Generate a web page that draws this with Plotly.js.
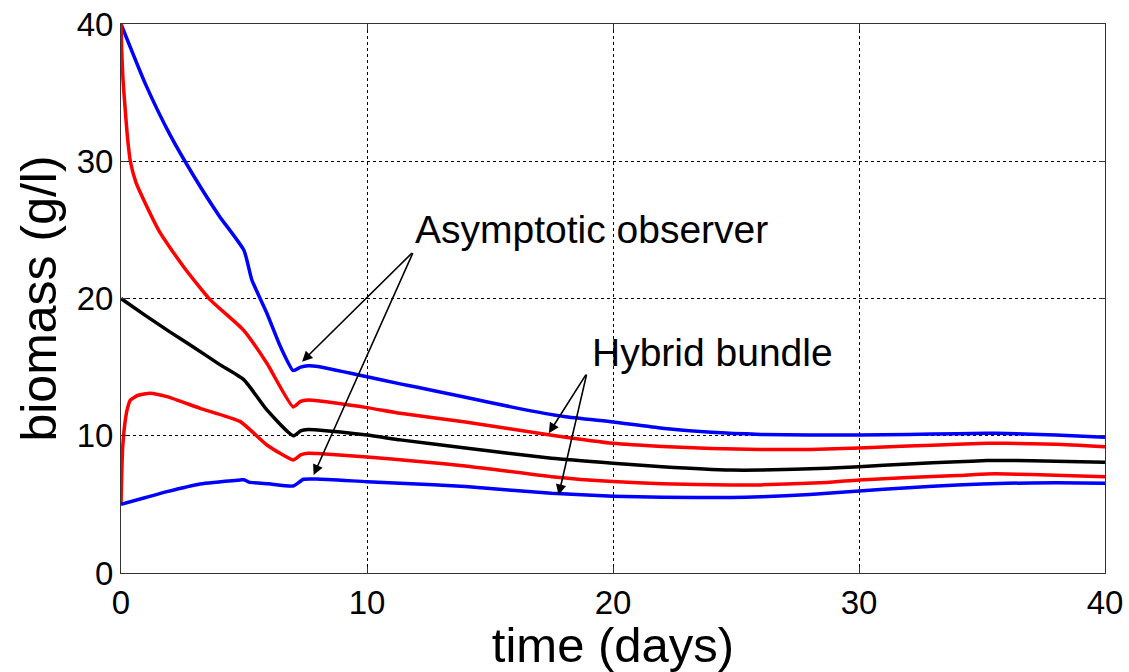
<!DOCTYPE html>
<html>
<head>
<meta charset="utf-8">
<script src="https://cdn.plot.ly/plotly-3.0.1.min.js"></script>
<style>html,body{margin:0;padding:0;background:#fff;}#chart{width:1129px;height:672px;}</style>
</head>
<body>
<div id="chart"></div>
<script>
// Upper asymptotic observer bound (blue)
const tBlueUp = [0, 1, 2, 3, 4, 5, 5.32, 5.93, 6.48, 7, 7.3, 7.6, 8, 10, 11.35, 12, 14, 16, 18, 20, 22, 24, 26, 28, 30, 32, 34, 35.2, 36, 38, 40];
const yBlueUp = [40, 35.6, 31.9, 28.8, 26.0, 23.5, 21.35, 18.93, 16.5, 14.75, 15.0, 15.1, 15.05, 14.3, 13.78, 13.55, 12.8, 12.05, 11.4, 11.0, 10.55, 10.25, 10.1, 10.05, 10.06, 10.1, 10.15, 10.18, 10.17, 10.05, 9.89];

// Upper hybrid bundle bound (red)
const tRedUp = [0, 0.03, 0.08, 0.14, 0.25, 0.38, 0.6, 0.92, 1.6, 2.55, 3.63, 4.98, 5.93, 7, 7.3, 7.6, 8, 10, 11.35, 14, 17.45, 20, 22, 24, 26, 28, 30, 32, 34, 35.2, 36, 38, 40];
const yRedUp = [40, 38, 36, 34.5, 32, 30, 28.5, 27.2, 24.76, 22.3, 19.9, 17.7, 15.28, 12.1, 12.5, 12.6, 12.55, 12.05, 11.64, 11.0, 10.06, 9.45, 9.22, 9.08, 9.0, 9.0, 9.1, 9.25, 9.38, 9.45, 9.45, 9.38, 9.2];

// Real biomass (black)
const tReal = [0, 1, 2, 3, 4, 5, 5.93, 7, 7.3, 7.6, 8, 10, 11.35, 14, 17.5, 20, 22, 24.8, 26, 28.7, 30, 32, 34, 35.2, 36, 38, 40];
const yReal = [20, 18.75, 17.55, 16.4, 15.2, 14.07, 11.88, 10.0, 10.35, 10.45, 10.42, 10.05, 9.7, 9.1, 8.36, 8.0, 7.75, 7.5, 7.5, 7.63, 7.75, 7.95, 8.1, 8.19, 8.2, 8.15, 8.07];

// Lower hybrid bundle bound (red)
const tRedLow = [0, 0.03, 0.07, 0.15, 0.25, 0.38, 0.7, 1.19, 1.87, 3.22, 4.85, 5.93, 7, 7.3, 7.6, 8, 10, 12, 14, 17.5, 20, 22, 24.8, 26, 28.7, 30, 32, 34, 35.2, 36, 38, 40];
const yRedLow = [5, 7.2, 9.2, 10.8, 11.9, 12.6, 12.95, 13.1, 12.85, 12.0, 11.03, 9.33, 8.24, 8.6, 8.72, 8.7, 8.45, 8.15, 7.8, 7.02, 6.66, 6.5, 6.41, 6.42, 6.6, 6.78, 6.95, 7.1, 7.22, 7.22, 7.12, 7.02];

// Lower asymptotic observer bound (blue)
const tBlueLow = [0, 1, 1.87, 3.22, 4.85, 5.0, 5.2, 6, 7, 7.42, 7.96, 10, 11.35, 14, 17.5, 20, 22, 24.8, 26, 28, 30, 32, 34, 36, 38, 40];
const yBlueLow = [5, 5.5, 5.93, 6.49, 6.78, 6.8, 6.62, 6.5, 6.34, 6.83, 6.85, 6.65, 6.54, 6.3, 5.81, 5.6, 5.52, 5.5, 5.55, 5.72, 5.98, 6.22, 6.42, 6.54, 6.57, 6.54];

const xTicks = [0, 10, 20, 30, 40];
const yTicks = [0, 10, 20, 30, 40];
const labelObserver = "Asymptotic observer";
const labelBundle = "Hybrid bundle";
const xTitle = "time (days)";
const yTitle = "biomass (g/l)";

const FONT = "Liberation Sans, Arial, sans-serif";
function line(x, y, color) {
  return {x: x, y: y, type: 'scatter', mode: 'lines',
          line: {color: color, width: 3.5, shape: 'spline', smoothing: 0.5},
          hoverinfo: 'skip', showlegend: false};
}
const traces = [
  line(tBlueUp, yBlueUp, '#0000ff'),
  line(tRedUp, yRedUp, '#ff0000'),
  line(tReal, yReal, '#000000'),
  line(tRedLow, yRedLow, '#ff0000'),
  line(tBlueLow, yBlueLow, '#0000ff')
];

function arrow(tipX, tipY, tailX, tailY) {
  return {x: tipX, y: tipY, ax: tailX, ay: tailY, xref: 'x', yref: 'y', axref: 'x', ayref: 'y',
          text: '', showarrow: true, arrowhead: 2, arrowsize: 1.3, arrowwidth: 1.6, arrowcolor: '#000', standoff: 0};
}

const layout = {
  width: 1129, height: 672,
  margin: {l: 121, r: 24, t: 24, b: 99},
  paper_bgcolor: '#fff', plot_bgcolor: '#fff',
  font: {family: FONT, color: '#000'},
  xaxis: {
    range: [0, 40], tickvals: xTicks, ticktext: xTicks.map(String),
    showgrid: true, gridcolor: '#000', griddash: 'dot', gridwidth: 1,
    zeroline: false, showline: true, linecolor: '#333', linewidth: 1, mirror: 'ticks',
    ticks: 'inside', ticklen: 6, tickcolor: '#333',
    tickfont: {size: 33, family: FONT, color: '#000'},
    title: {text: xTitle, font: {size: 49, family: FONT, color: '#000'}, standoff: 0},
    automargin: false, fixedrange: true
  },
  yaxis: {
    range: [0, 40], tickvals: yTicks, ticktext: yTicks.map(String),
    showgrid: true, gridcolor: '#000', griddash: 'dot', gridwidth: 1,
    zeroline: false, showline: true, linecolor: '#333', linewidth: 1, mirror: 'ticks',
    ticks: 'inside', ticklen: 6, tickcolor: '#333',
    tickfont: {size: 33, family: FONT, color: '#000'},
    title: {text: yTitle, font: {size: 50, family: FONT, color: '#000'}, standoff: 4},
    automargin: false, fixedrange: true
  },
  annotations: [
    {x: 11.89, y: 25.0, xref: 'x', yref: 'y', xanchor: 'left', yanchor: 'middle', text: labelObserver,
     showarrow: false, font: {size: 39, family: FONT, color: '#000'}},
    {x: 19.08, y: 16.1, xref: 'x', yref: 'y', xanchor: 'left', yanchor: 'middle', text: labelBundle,
     showarrow: false, font: {size: 39, family: FONT, color: '#000'}},
    arrow(7.36, 15.4, 11.89, 23.42),
    arrow(7.83, 7.14, 11.89, 23.42),
    arrow(17.39, 10.18, 18.94, 14.56),
    arrow(17.79, 5.69, 18.94, 14.56)
  ]
};

Plotly.newPlot('chart', traces, layout, {staticPlot: true, displayModeBar: false});
</script>
</body>
</html>
